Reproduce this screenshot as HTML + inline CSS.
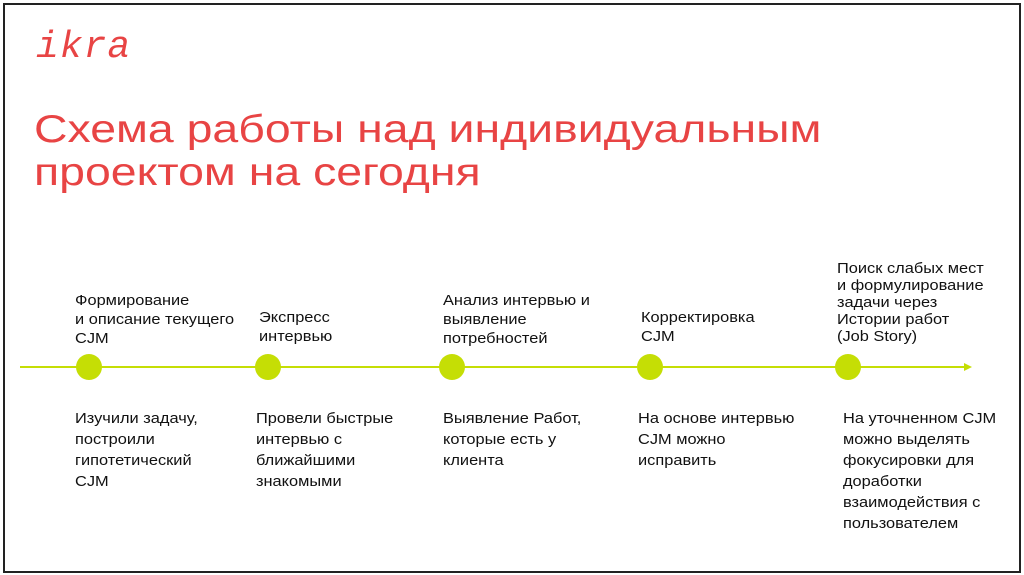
<!DOCTYPE html>
<html><head><meta charset="utf-8"><style>
body{margin:0;width:1024px;height:575px;background:#fff;position:relative;overflow:hidden;font-family:"Liberation Sans",sans-serif}
.frame{position:absolute;left:3px;top:3px;width:1014px;height:566px;border:2px solid #222;}
.logo{position:absolute;left:36px;top:26px;font-size:38px;font-style:italic;color:#e84444;letter-spacing:1px;font-family:"Liberation Mono",monospace}
.title{position:absolute;left:34px;top:108px;font-size:39px;line-height:43px;color:#e84444;transform:scaleX(1.19);transform-origin:left top;white-space:nowrap}
.t{position:absolute;font-size:14.5px;line-height:21px;color:#111;transform:scaleX(1.13);transform-origin:left top;white-space:nowrap}
.u{line-height:19px}
.dot{position:absolute;width:26px;height:26px;border-radius:50%;background:#c5de05;top:354px}
</style></head><body>
<div class="frame"></div>
<div class="logo">ikra</div>
<div class="title">Схема работы над индивидуальным<br>проектом на сегодня</div>
<svg style="position:absolute;left:0;top:0" width="1024" height="575"><line x1="20" y1="367" x2="966" y2="367" stroke="#c5de05" stroke-width="2"/><polygon points="972,367 964,363 964,371" fill="#c5de05"/></svg>
<div class="dot" style="left:76px"></div>
<div class="dot" style="left:255px"></div>
<div class="dot" style="left:439px"></div>
<div class="dot" style="left:637px"></div>
<div class="dot" style="left:835px"></div>
<div class="t u" style="left:75px;top:292px">Формирование<br>и описание текущего<br>CJM</div>
<div class="t u" style="left:259px;top:309px">Экспресс<br>интервью</div>
<div class="t u" style="left:443px;top:292px">Анализ интервью и<br>выявление<br>потребностей</div>
<div class="t u" style="left:641px;top:309px">Корректировка<br>CJM</div>
<div class="t" style="left:837px;top:261px;line-height:17px">Поиск слабых мест<br>и формулирование<br>задачи через<br>Истории работ<br>(Job Story)</div>
<div class="t" style="left:75px;top:409px">Изучили задачу,<br>построили<br>гипотетический<br>CJM</div>
<div class="t" style="left:256px;top:409px">Провели быстрые<br>интервью с<br>ближайшими<br>знакомыми</div>
<div class="t" style="left:443px;top:409px">Выявление Работ,<br>которые есть у<br>клиента</div>
<div class="t" style="left:638px;top:409px">На основе интервью<br>CJM можно<br>исправить</div>
<div class="t" style="left:843px;top:409px">На уточненном CJM<br>можно выделять<br>фокусировки для<br>доработки<br>взаимодействия с<br>пользователем</div>
</body></html>
